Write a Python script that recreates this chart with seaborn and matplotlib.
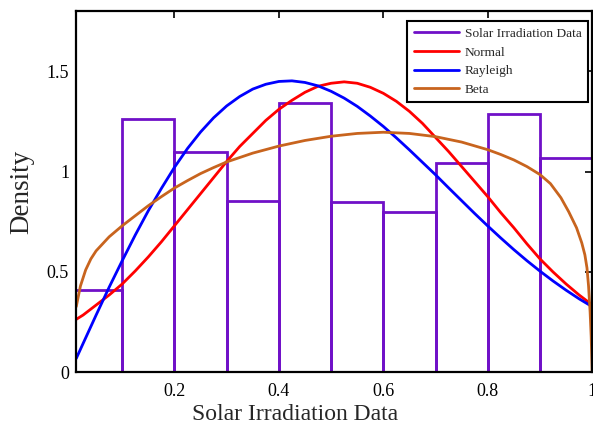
import matplotlib
matplotlib.use("Agg")
import matplotlib.pyplot as plt
from matplotlib.lines import Line2D
import seaborn as sns
import pandas as pd

# Histogram (density per bin)
bin_edges = [0.0, 0.1, 0.2, 0.3, 0.4, 0.5, 0.6, 0.7, 0.8, 0.9, 1.0]
bin_heights = [0.41, 1.264, 1.098, 0.851, 1.342, 0.85, 0.80, 1.041, 1.287, 1.068]

# Fitted curves
normal_x = [0.012, 0.025, 0.05, 0.075, 0.1, 0.125, 0.15, 0.175, 0.2, 0.225, 0.25, 0.275, 0.3,
            0.325, 0.35, 0.375, 0.4, 0.425, 0.45, 0.475, 0.5, 0.525, 0.55, 0.575, 0.6, 0.625,
            0.65, 0.675, 0.7, 0.725, 0.75, 0.775, 0.8, 0.825, 0.85, 0.875, 0.9, 0.925, 0.95,
            0.975, 1.0]
normal_y = [0.264, 0.285, 0.335, 0.385, 0.44, 0.505, 0.575, 0.65, 0.73, 0.81, 0.89, 0.97, 1.05,
            1.125, 1.19, 1.255, 1.31, 1.355, 1.395, 1.425, 1.44, 1.447, 1.44, 1.42, 1.39, 1.35,
            1.30, 1.24, 1.17, 1.10, 1.025, 0.95, 0.875, 0.795, 0.72, 0.64, 0.565, 0.50, 0.44,
            0.385, 0.336]

rayleigh_x = [0.012, 0.025, 0.05, 0.075, 0.1, 0.125, 0.15, 0.175, 0.2, 0.225, 0.25, 0.275, 0.3,
              0.325, 0.35, 0.375, 0.4, 0.425, 0.45, 0.475, 0.5, 0.525, 0.55, 0.575, 0.6, 0.625,
              0.65, 0.675, 0.7, 0.725, 0.75, 0.775, 0.8, 0.825, 0.85, 0.875, 0.9, 0.925, 0.95,
              0.975, 1.0]
rayleigh_y = [0.069, 0.143, 0.285, 0.424, 0.556, 0.684, 0.805, 0.916, 1.021, 1.115, 1.197, 1.268,
              1.327, 1.374, 1.411, 1.435, 1.449, 1.452, 1.444, 1.427, 1.40, 1.366, 1.325, 1.277,
              1.225, 1.168, 1.108, 1.046, 0.984, 0.919, 0.855, 0.791, 0.729, 0.669, 0.611, 0.556,
              0.504, 0.455, 0.409, 0.366, 0.327]

beta_x = [0.012, 0.02, 0.03, 0.04, 0.05, 0.075, 0.1, 0.125, 0.15, 0.175, 0.2, 0.225, 0.25, 0.275,
          0.3, 0.35, 0.4, 0.45, 0.5, 0.55, 0.6, 0.65, 0.7, 0.75, 0.8, 0.825, 0.85, 0.875, 0.9,
          0.92, 0.94, 0.955, 0.97, 0.98, 0.986, 0.99, 0.993, 0.996, 0.998, 1.0]
beta_y = [0.327, 0.43, 0.51, 0.565, 0.605, 0.675, 0.73, 0.78, 0.83, 0.875, 0.918, 0.955, 0.99, 1.02,
          1.048, 1.092, 1.127, 1.155, 1.176, 1.19, 1.196, 1.19, 1.174, 1.147, 1.109, 1.085, 1.058,
          1.025, 0.985, 0.94, 0.87, 0.80, 0.72, 0.645, 0.585, 0.52, 0.43, 0.30, 0.18, 0.0]

x_ticks = [0.2, 0.4, 0.6, 0.8, 1.0]
x_tick_labels = ["0.2", "0.4", "0.6", "0.8", "1"]
y_ticks = [0, 0.5, 1.0, 1.5]
y_tick_labels = ["0", "0.5", "1", "1.5"]
legend_labels = ["Solar Irradiation Data", "Normal", "Rayleigh", "Beta"]

purple = "#7010C8"
red = "#FF0000"
blue = "#0000FF"
orange = "#C8641E"

sns.set_style("white")
plt.rcParams["font.family"] = ["Liberation Serif", "DejaVu Serif"]

fig = plt.figure(figsize=(5.93, 4.30), dpi=100)
ax = fig.add_axes([76 / 593, 1 - 372.3 / 430, (592.2 - 76) / 593, (372.3 - 11) / 430])

centers = [(a + b) / 2 for a, b in zip(bin_edges[:-1], bin_edges[1:])]
hist_df = pd.DataFrame({"x": centers, "w": bin_heights})
sns.histplot(data=hist_df, x="x", weights="w", bins=bin_edges, stat="count",
             element="bars", fill=False, color=purple, linewidth=2.0, ax=ax)

sns.lineplot(x=normal_x, y=normal_y, color=red, linewidth=2.0, ax=ax, sort=False)
sns.lineplot(x=rayleigh_x, y=rayleigh_y, color=blue, linewidth=2.0, ax=ax, sort=False)
sns.lineplot(x=beta_x, y=beta_y, color=orange, linewidth=2.0, ax=ax, sort=False)

ax.set_xlim(0.0115, 1.0)
ax.set_ylim(0, 1.8)
ax.set_xticks(x_ticks)
ax.set_xticklabels(x_tick_labels)
ax.set_yticks(y_ticks)
ax.set_yticklabels(y_tick_labels)
ax.tick_params(direction="in", length=5, width=1.2, top=True, right=True,
               labelsize=13, colors="black")
ax.tick_params(axis="x", pad=8)
ax.tick_params(axis="y", pad=5)
for s in ax.spines.values():
    s.set_color("black")
    s.set_linewidth(1.6)
ax.set_xlabel("Solar Irradiation Data", fontsize=17)
ax.set_ylabel("Density", fontsize=19.5)
ax.xaxis.set_label_coords(0.425, -0.088)
ax.yaxis.set_label_coords(-0.08, 0.5)

handles = [Line2D([0], [0], color=c, lw=2.0) for c in [purple, red, blue, orange]]
leg = ax.legend(handles, legend_labels, loc="upper right", bbox_to_anchor=(0.992, 0.9723),
                fontsize=9.6, frameon=True, fancybox=False, handlelength=3.4,
                borderpad=0.5, labelspacing=0.47, handletextpad=0.4, borderaxespad=0)
leg.get_frame().set_edgecolor("black")
leg.get_frame().set_linewidth(1.5)
leg.get_frame().set_alpha(1)

fig.savefig("out.png", dpi=100)
